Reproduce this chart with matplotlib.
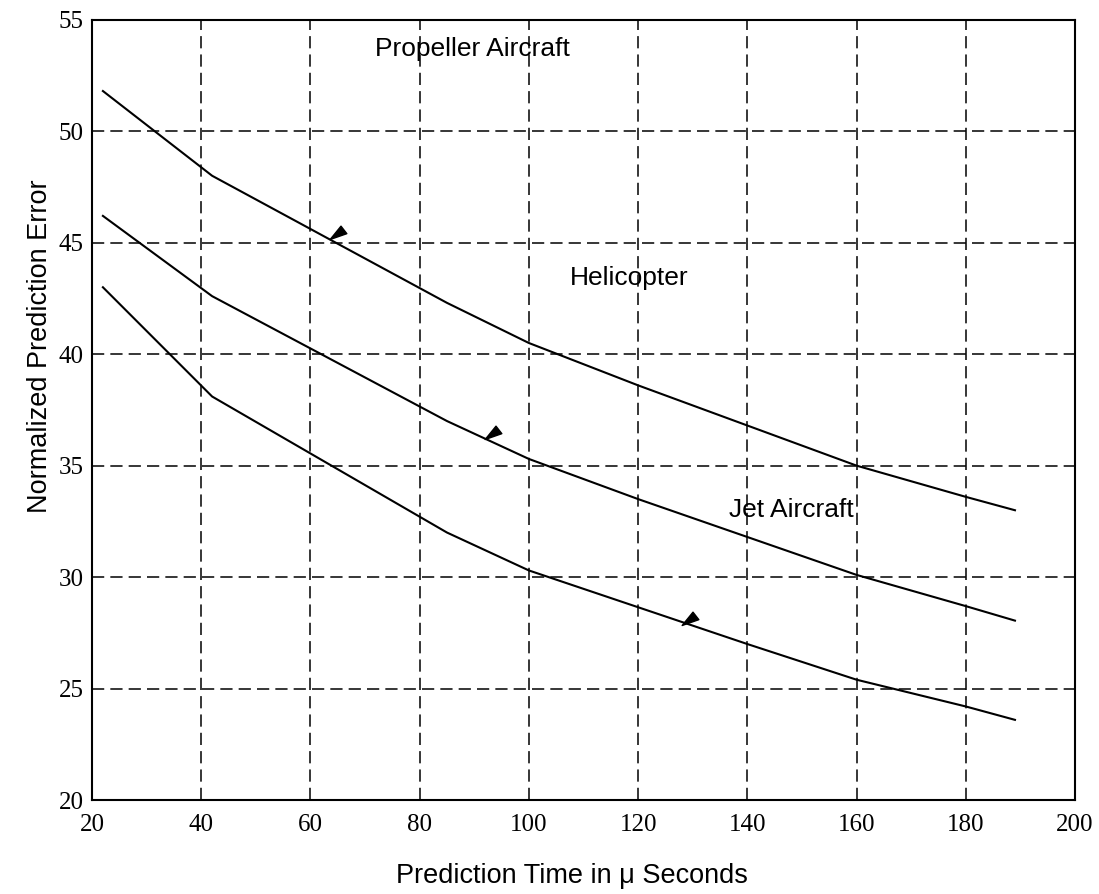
import matplotlib
matplotlib.use("Agg")
import matplotlib.pyplot as plt
from matplotlib.path import Path

# ---- data ----
time_us = [22, 42, 85, 100, 120, 140, 160, 180, 189]
propeller = [51.8, 48.0, 42.3, 40.5, 38.6, 36.8, 35.0, 33.6, 33.0]
helicopter = [46.2, 42.6, 37.0, 35.3, 33.5, 31.8, 30.1, 28.7, 28.05]
jet = [43.0, 38.1, 32.0, 30.3, 28.65, 27.0, 25.4, 24.2, 23.6]

marker_x = [65.0, 93.5, 129.5]
marker_y = [45.4, 36.4, 28.1]

series_labels = ["Propeller Aircraft", "Helicopter", "Jet Aircraft"]
label_x = [89.7, 118.3, 148.1]
label_y = [53.7, 43.4, 33.0]

xticks = [20, 40, 60, 80, 100, 120, 140, 160, 180, 200]
yticks = [20, 25, 30, 35, 40, 45, 50, 55]

serif = ["Liberation Serif", "DejaVu Serif"]
sans = ["Liberation Sans", "DejaVu Sans"]

fig = plt.figure(figsize=(10.99, 8.94), dpi=100)
ax = fig.add_axes([0.0837, 0.105, 0.8945, 0.873])

for ys in (propeller, helicopter, jet):
    ax.plot(time_us, ys, color="black", lw=1.5, solid_joinstyle="miter", zorder=3)

arrow = Path([(-1.0, -0.6), (0.3, 1.0), (1.0, 0.1), (-1.0, -0.6)],
             [Path.MOVETO, Path.LINETO, Path.LINETO, Path.CLOSEPOLY])
ax.plot(marker_x, marker_y, linestyle="none", marker=arrow, markersize=12,
        color="black", zorder=4)

for t, x, y in zip(series_labels, label_x, label_y):
    ax.text(x, y, t, ha="center", va="center", fontsize=19, family=sans)

ax.set_xlim(20, 200)
ax.set_ylim(20, 55)
ax.set_xticks(xticks)
ax.set_yticks(yticks)
ax.tick_params(length=0, labelsize=18)
ax.tick_params(axis="x", pad=10)
ax.tick_params(axis="y", pad=6)
for lab in ax.get_xticklabels() + ax.get_yticklabels():
    lab.set_family(serif)

ax.grid(True, color="black", linestyle=(0, (8, 4)), linewidth=1.1)
for s in ax.spines.values():
    s.set_linewidth(1.5)

ax.set_xlabel("Prediction Time in μ Seconds", fontsize=19.5, family=sans)
ax.set_ylabel("Normalized Prediction Error", fontsize=19.5, family=sans)
ax.xaxis.set_label_coords(0.488, -0.081)
ax.yaxis.set_label_coords(-0.040, 0.581)

fig.savefig("out.png", dpi=100)
